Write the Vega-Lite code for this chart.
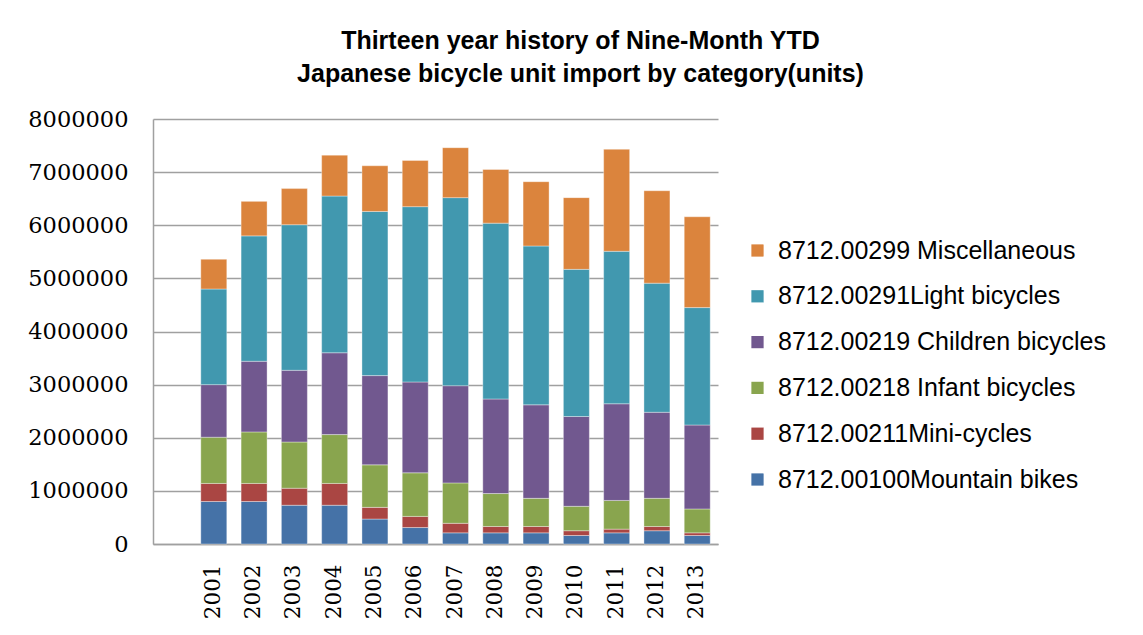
{
  "$schema": "https://vega.github.io/schema/vega-lite/v6.json",
  "autosize": "none",
  "width": 565,
  "height": 425,
  "padding": {"left": 153, "top": 119, "right": 425, "bottom": 91},
  "background": "white",
  "title": {
    "text": ["Thirteen year history of Nine-Month YTD", "Japanese bicycle unit import by category(units)"],
    "font": "Liberation Sans",
    "fontSize": 25,
    "fontWeight": "bold",
    "color": "#000000",
    "anchor": "middle",
    "frame": "group",
    "dx": 145,
    "offset": 21,
    "lineHeight": 33
  },
  "data": {
    "values": [
      {"year": "2001", "category": "8712.00100Mountain bikes", "units": 800000},
      {"year": "2001", "category": "8712.00211Mini-cycles", "units": 340000},
      {"year": "2001", "category": "8712.00218 Infant bicycles", "units": 870000},
      {"year": "2001", "category": "8712.00219 Children bicycles", "units": 990000},
      {"year": "2001", "category": "8712.00291Light bicycles", "units": 1800000},
      {"year": "2001", "category": "8712.00299 Miscellaneous", "units": 560000},
      {"year": "2002", "category": "8712.00100Mountain bikes", "units": 800000},
      {"year": "2002", "category": "8712.00211Mini-cycles", "units": 340000},
      {"year": "2002", "category": "8712.00218 Infant bicycles", "units": 970000},
      {"year": "2002", "category": "8712.00219 Children bicycles", "units": 1330000},
      {"year": "2002", "category": "8712.00291Light bicycles", "units": 2360000},
      {"year": "2002", "category": "8712.00299 Miscellaneous", "units": 650000},
      {"year": "2003", "category": "8712.00100Mountain bikes", "units": 730000},
      {"year": "2003", "category": "8712.00211Mini-cycles", "units": 320000},
      {"year": "2003", "category": "8712.00218 Infant bicycles", "units": 870000},
      {"year": "2003", "category": "8712.00219 Children bicycles", "units": 1350000},
      {"year": "2003", "category": "8712.00291Light bicycles", "units": 2740000},
      {"year": "2003", "category": "8712.00299 Miscellaneous", "units": 680000},
      {"year": "2004", "category": "8712.00100Mountain bikes", "units": 730000},
      {"year": "2004", "category": "8712.00211Mini-cycles", "units": 410000},
      {"year": "2004", "category": "8712.00218 Infant bicycles", "units": 920000},
      {"year": "2004", "category": "8712.00219 Children bicycles", "units": 1540000},
      {"year": "2004", "category": "8712.00291Light bicycles", "units": 2950000},
      {"year": "2004", "category": "8712.00299 Miscellaneous", "units": 770000},
      {"year": "2005", "category": "8712.00100Mountain bikes", "units": 470000},
      {"year": "2005", "category": "8712.00211Mini-cycles", "units": 220000},
      {"year": "2005", "category": "8712.00218 Infant bicycles", "units": 800000},
      {"year": "2005", "category": "8712.00219 Children bicycles", "units": 1680000},
      {"year": "2005", "category": "8712.00291Light bicycles", "units": 3090000},
      {"year": "2005", "category": "8712.00299 Miscellaneous", "units": 860000},
      {"year": "2006", "category": "8712.00100Mountain bikes", "units": 310000},
      {"year": "2006", "category": "8712.00211Mini-cycles", "units": 210000},
      {"year": "2006", "category": "8712.00218 Infant bicycles", "units": 820000},
      {"year": "2006", "category": "8712.00219 Children bicycles", "units": 1710000},
      {"year": "2006", "category": "8712.00291Light bicycles", "units": 3300000},
      {"year": "2006", "category": "8712.00299 Miscellaneous", "units": 870000},
      {"year": "2007", "category": "8712.00100Mountain bikes", "units": 210000},
      {"year": "2007", "category": "8712.00211Mini-cycles", "units": 180000},
      {"year": "2007", "category": "8712.00218 Infant bicycles", "units": 760000},
      {"year": "2007", "category": "8712.00219 Children bicycles", "units": 1830000},
      {"year": "2007", "category": "8712.00291Light bicycles", "units": 3540000},
      {"year": "2007", "category": "8712.00299 Miscellaneous", "units": 940000},
      {"year": "2008", "category": "8712.00100Mountain bikes", "units": 210000},
      {"year": "2008", "category": "8712.00211Mini-cycles", "units": 120000},
      {"year": "2008", "category": "8712.00218 Infant bicycles", "units": 620000},
      {"year": "2008", "category": "8712.00219 Children bicycles", "units": 1780000},
      {"year": "2008", "category": "8712.00291Light bicycles", "units": 3310000},
      {"year": "2008", "category": "8712.00299 Miscellaneous", "units": 1010000},
      {"year": "2009", "category": "8712.00100Mountain bikes", "units": 210000},
      {"year": "2009", "category": "8712.00211Mini-cycles", "units": 120000},
      {"year": "2009", "category": "8712.00218 Infant bicycles", "units": 530000},
      {"year": "2009", "category": "8712.00219 Children bicycles", "units": 1760000},
      {"year": "2009", "category": "8712.00291Light bicycles", "units": 2990000},
      {"year": "2009", "category": "8712.00299 Miscellaneous", "units": 1210000},
      {"year": "2010", "category": "8712.00100Mountain bikes", "units": 160000},
      {"year": "2010", "category": "8712.00211Mini-cycles", "units": 90000},
      {"year": "2010", "category": "8712.00218 Infant bicycles", "units": 460000},
      {"year": "2010", "category": "8712.00219 Children bicycles", "units": 1690000},
      {"year": "2010", "category": "8712.00291Light bicycles", "units": 2770000},
      {"year": "2010", "category": "8712.00299 Miscellaneous", "units": 1350000},
      {"year": "2011", "category": "8712.00100Mountain bikes", "units": 210000},
      {"year": "2011", "category": "8712.00211Mini-cycles", "units": 70000},
      {"year": "2011", "category": "8712.00218 Infant bicycles", "units": 540000},
      {"year": "2011", "category": "8712.00219 Children bicycles", "units": 1820000},
      {"year": "2011", "category": "8712.00291Light bicycles", "units": 2870000},
      {"year": "2011", "category": "8712.00299 Miscellaneous", "units": 1920000},
      {"year": "2012", "category": "8712.00100Mountain bikes", "units": 250000},
      {"year": "2012", "category": "8712.00211Mini-cycles", "units": 80000},
      {"year": "2012", "category": "8712.00218 Infant bicycles", "units": 530000},
      {"year": "2012", "category": "8712.00219 Children bicycles", "units": 1620000},
      {"year": "2012", "category": "8712.00291Light bicycles", "units": 2430000},
      {"year": "2012", "category": "8712.00299 Miscellaneous", "units": 1740000},
      {"year": "2013", "category": "8712.00100Mountain bikes", "units": 160000},
      {"year": "2013", "category": "8712.00211Mini-cycles", "units": 50000},
      {"year": "2013", "category": "8712.00218 Infant bicycles", "units": 450000},
      {"year": "2013", "category": "8712.00219 Children bicycles", "units": 1580000},
      {"year": "2013", "category": "8712.00291Light bicycles", "units": 2210000},
      {"year": "2013", "category": "8712.00299 Miscellaneous", "units": 1710000}
    ]
  },
  "mark": {"type": "bar", "stroke": "white", "strokeWidth": 0.6, "strokeOpacity": 0.6},
  "encoding": {
    "x": {
      "field": "year",
      "type": "nominal",
      "title": null,
      "scale": {"paddingInner": 0.355, "paddingOuter": 0.69, "align": 0.86},
      "axis": {
        "labelAngle": 270,
        "labelFont": "DejaVu Serif",
        "labelFontSize": 21.5,
        "labelColor": "#000000",
        "labelPadding": 20,
        "ticks": false,
        "domainColor": "#a0a0a0",
        "domainWidth": 1.5
      }
    },
    "y": {
      "field": "units",
      "type": "quantitative",
      "stack": "zero",
      "title": null,
      "scale": {"domain": [0, 8000000]},
      "axis": {
        "values": [0, 1000000, 2000000, 3000000, 4000000, 5000000, 6000000, 7000000, 8000000],
        "format": "d",
        "labelFont": "DejaVu Serif",
        "labelFontSize": 22.5,
        "labelColor": "#000000",
        "labelPadding": 25,
        "ticks": false,
        "grid": true,
        "gridColor": "#a0a0a0",
        "gridWidth": 1.3,
        "domainColor": "#a0a0a0",
        "domainWidth": 1.5
      }
    },
    "color": {
      "field": "category",
      "type": "nominal",
      "sort": "descending",
      "scale": {
        "domain": [
          "8712.00299 Miscellaneous",
          "8712.00291Light bicycles",
          "8712.00219 Children bicycles",
          "8712.00218 Infant bicycles",
          "8712.00211Mini-cycles",
          "8712.00100Mountain bikes"
        ],
        "range": ["#DB843D", "#4198AF", "#71588F", "#89A54E", "#AA4643", "#4572A7"]
      },
      "legend": {
        "title": null,
        "orient": "none",
        "legendX": 592,
        "legendY": 119,
        "symbolType": "square",
        "symbolSize": 150,
        "symbolStrokeWidth": 0,
        "labelFont": "Liberation Sans",
        "labelFontSize": 25,
        "labelColor": "#000000",
        "labelOffset": 8,
        "labelLimit": 500,
        "rowPadding": 19.8
      }
    },
    "order": {"field": "category", "type": "nominal", "sort": "ascending"}
  },
  "config": {
    "view": {"stroke": null}
  }
}
